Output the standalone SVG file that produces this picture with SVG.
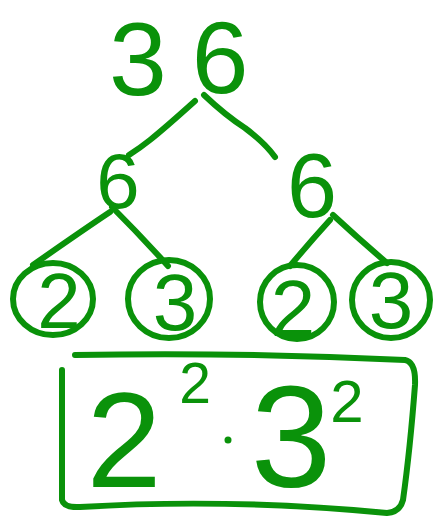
<svg xmlns="http://www.w3.org/2000/svg" width="438" height="521" viewBox="0 0 438 521">
<style>
.t{font-family:"Liberation Sans","DejaVu Sans",sans-serif;fill:#0a920a;text-anchor:middle}
.s{fill:none;stroke:#0a920a;stroke-width:6;stroke-linecap:round;stroke-linejoin:round}
</style>
<rect width="438" height="521" fill="#fff"/>
<g id="connectors">
<path class="s" d="M195,101 Q165,128 150,140 Q140,148 129,155"/>
<path class="s" d="M204,95 Q225,115 245,128 Q265,143 275,157"/>
<path class="s" d="M110,212 Q80,232 33,265"/>
<path class="s" d="M112,207 Q140,235 168,266"/>
<path class="s" d="M330,220 Q310,242 290,266"/>
<path class="s" d="M333,215 Q360,240 387,263"/>
</g>
<g id="n36"><text class="t" x="138" y="95" font-size="104">3</text><text class="t" x="220" y="93" font-size="102">6</text></g>
<g id="n6a"><text class="t" x="118" y="208" font-size="78">6</text></g>
<g id="n6b"><text class="t" x="312" y="217" font-size="90">6</text></g>
<g id="n2a"><ellipse class="s" cx="53" cy="299" rx="40" ry="36"/><text class="t" x="59" y="328" font-size="78">2</text></g>
<g id="n3a"><ellipse class="s" cx="169" cy="299" rx="41" ry="39"/><text class="t" x="175" y="330" font-size="80">3</text></g>
<g id="n2b"><ellipse class="s" cx="297" cy="302" rx="37" ry="37"/><text class="t" x="293" y="336" font-size="80">2</text></g>
<g id="n3b"><ellipse class="s" cx="391" cy="300" rx="39" ry="38"/><text class="t" x="391" y="328" font-size="80">3</text></g>
<g id="result">
<path class="s" d="M62,370 Q62,440 62,500 Q64,508 80,507 Q230,498 387,513 Q400,512 403,500 Q410,450 415,385 Q416,362 405,360 Q240,352 75,355"/>
<text class="t" x="124" y="487" font-size="135">2</text>
<text class="t" x="195" y="403" font-size="57">2</text>
<circle cx="228" cy="440" r="3.5" fill="#0a920a"/>
<text class="t" x="291" y="487" font-size="145">3</text>
<text class="t" x="347" y="422" font-size="60">2</text>
</g>
</svg>
